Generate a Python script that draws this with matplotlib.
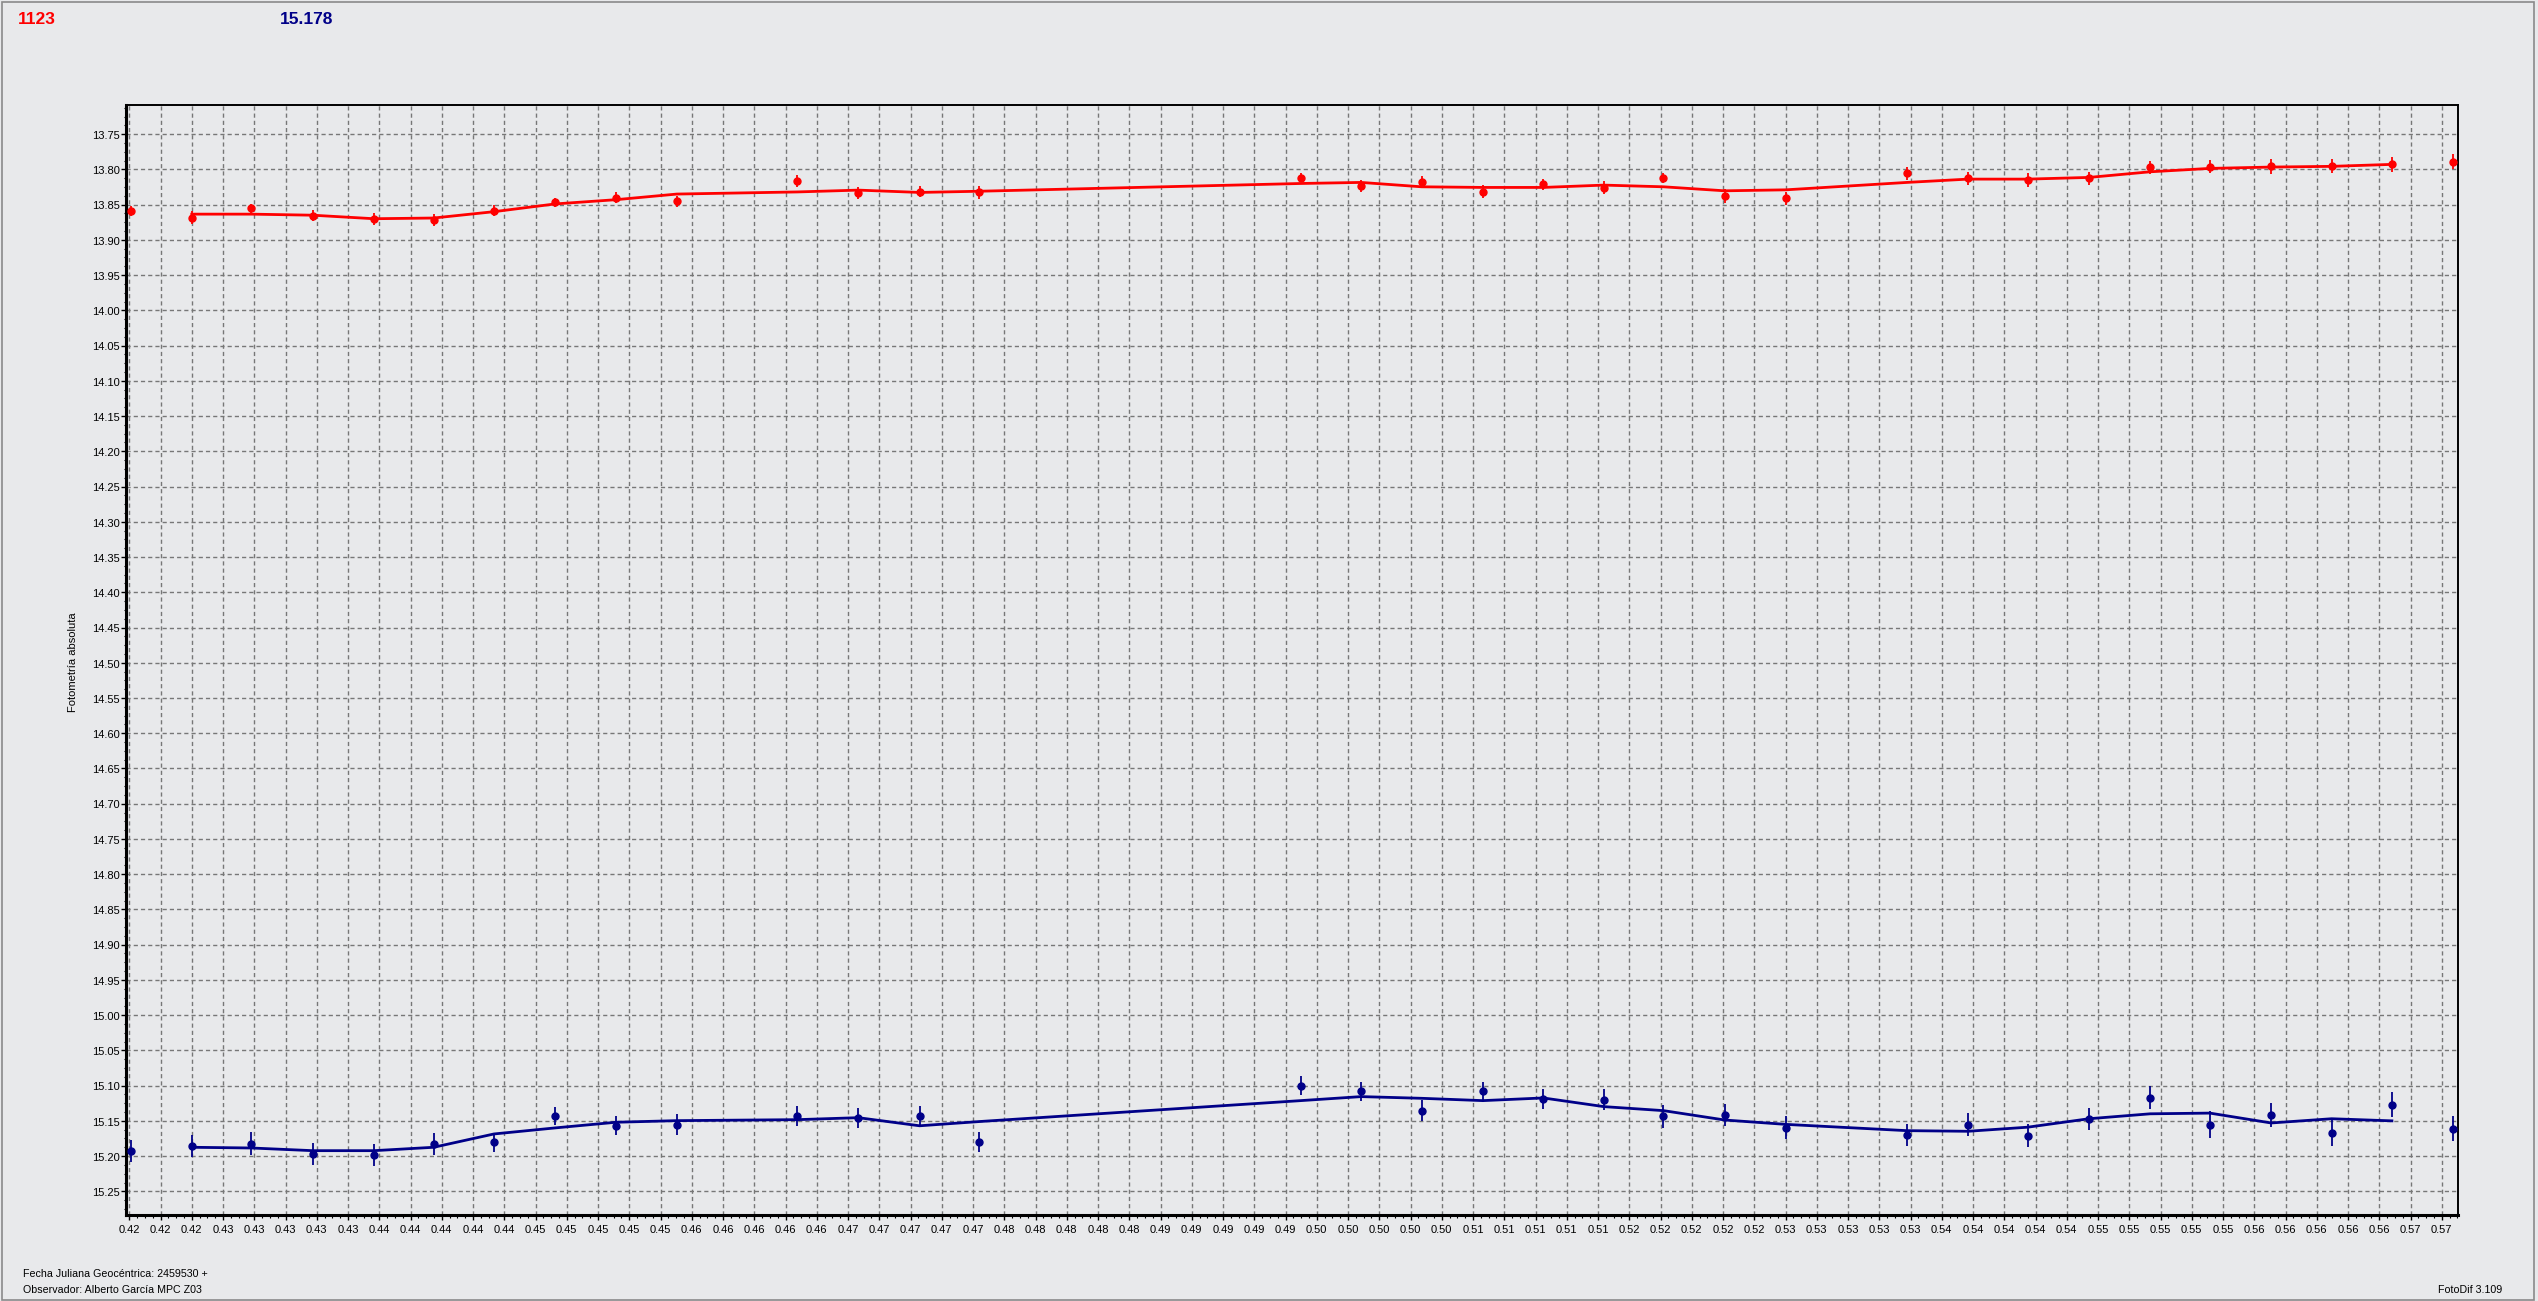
import numpy as np
import matplotlib
matplotlib.use("Agg")
import matplotlib.pyplot as plt
from matplotlib.ticker import MultipleLocator, AutoMinorLocator, FormatStrFormatter, FixedLocator
from matplotlib.patches import Rectangle

plt.rcParams['font.family'] = ['Liberation Sans', 'DejaVu Sans']

# ---------------- data ----------------
jd = [0.42008, 0.42400, 0.42782, 0.43174, 0.43566, 0.43948, 0.44334, 0.44726, 0.45114,
      0.45505, 0.46275, 0.46666, 0.47058, 0.47440, 0.49497, 0.49884, 0.50271, 0.50663,
      0.51050, 0.51437, 0.51819, 0.52211, 0.52602, 0.53376, 0.53768, 0.54150, 0.54542,
      0.54934, 0.55316, 0.55708, 0.56095, 0.56481, 0.56874]

red_mag = [13.8588, 13.8687, 13.8554, 13.8660, 13.8706, 13.8720, 13.8588, 13.8469, 13.8403,
           13.8450, 13.8162, 13.8337, 13.8318, 13.8327, 13.8118, 13.8233, 13.8185, 13.8318,
           13.8213, 13.8261, 13.8118, 13.8375, 13.8412, 13.8057, 13.8128, 13.8148, 13.8128,
           13.7972, 13.7963, 13.7957, 13.7949, 13.7929, 13.7892]
red_err = [0.0070, 0.0090, 0.0064, 0.0078, 0.0083, 0.0080, 0.0078, 0.0064, 0.0076,
           0.0078, 0.0085, 0.0083, 0.0080, 0.0092, 0.0066, 0.0088, 0.0085, 0.0090,
           0.0083, 0.0092, 0.0073, 0.0102, 0.0095, 0.0090, 0.0095, 0.0095, 0.0095,
           0.0090, 0.0090, 0.0102, 0.0102, 0.0104, 0.0107]
red_fit = [13.8635, 13.8635, 13.8650, 13.8700, 13.8690, 13.8600, 13.8490, 13.8430, 13.8350,
           13.8320, 13.8294, 13.8327, 13.8310, 13.8200, 13.8185, 13.8247, 13.8256, 13.8256,
           13.8223, 13.8247, 13.8304, 13.8290, 13.8185, 13.8138, 13.8138, 13.8114, 13.8034,
           13.7986, 13.7967, 13.7957, 13.7929]

blue_mag = [15.1923, 15.1852, 15.1824, 15.1970, 15.1984, 15.1828, 15.1804, 15.1435, 15.1568,
            15.1554, 15.1426, 15.1463, 15.1435, 15.1804, 15.1000, 15.1080, 15.1355, 15.1080,
            15.1189, 15.1199, 15.1435, 15.1416, 15.1597, 15.1700, 15.1554, 15.1710, 15.1473,
            15.1170, 15.1554, 15.1416, 15.1672, 15.1270, 15.1610]
blue_err = [0.0156, 0.0158, 0.0160, 0.0150, 0.0155, 0.0154, 0.0135, 0.0130, 0.0137,
            0.0150, 0.0140, 0.0140, 0.0140, 0.0140, 0.0137, 0.0137, 0.0150, 0.0130,
            0.0147, 0.0150, 0.0166, 0.0159, 0.0160, 0.0160, 0.0166, 0.0166, 0.0159,
            0.0166, 0.0187, 0.0173, 0.0178, 0.0182, 0.0182]
blue_fit = [15.1875, 15.1885, 15.1923, 15.1923, 15.1875, 15.1686, 15.1600, 15.1520, 15.1497,
            15.1483, 15.1455, 15.1570, 15.1510, 15.1213, 15.1156, 15.1180, 15.1213, 15.1175,
            15.1298, 15.1355, 15.1488, 15.1550, 15.1639, 15.1648, 15.1590, 15.1470, 15.1400,
            15.1390, 15.1530, 15.1470, 15.1500]

x_tick_start, x_tick_step, x_tick_count = 0.420, 0.002, 75
x_limits = (0.41979, 0.56904)
y_limits = (15.2836, 13.7089)
y_tick_step = 0.05

label_red = "1123"
label_blue = "15.178"
y_title = "Fotometría absoluta"
footer_1 = "Fecha Juliana Geocéntrica: 2459530 +"
footer_2 = "Observador: Alberto García MPC Z03"
footer_3 = "FotoDif 3.109"

# ---------------- figure ----------------
W, H = 2538, 1302
bg = '#e8e9eb'
fig = plt.figure(figsize=(W / 100, H / 100 - 0.002), dpi=100, facecolor=bg)
ax = fig.add_axes([126 / W, 1 - 1216 / H, (2458 - 126) / W, (1216 - 106) / H])
ax.set_facecolor(bg)

red = '#ff0000'
navy = '#000088'

x = np.array(jd)
ax.plot(x[1:1 + len(red_fit)], red_fit, color=red, lw=2.0, zorder=3)
ax.plot(x[1:1 + len(blue_fit)], blue_fit, color=navy, lw=2.0, zorder=3)
ax.errorbar(x, red_mag, yerr=red_err, fmt='o', ms=5, color=red, ecolor=red,
            elinewidth=1.3, capsize=0, zorder=4)
ax.errorbar(x, blue_mag, yerr=blue_err, fmt='o', ms=5, color=navy, ecolor=navy,
            elinewidth=1.3, capsize=0, zorder=4)

ax.set_xlim(*x_limits)
ax.set_ylim(*y_limits)

xt = x_tick_start + x_tick_step * np.arange(x_tick_count)
ax.xaxis.set_major_locator(FixedLocator(xt))
ax.xaxis.set_major_formatter(FormatStrFormatter('%.2f'))
ax.xaxis.set_minor_locator(AutoMinorLocator(4))
ax.yaxis.set_major_locator(MultipleLocator(y_tick_step))
ax.yaxis.set_major_formatter(FormatStrFormatter('%.2f'))
ax.yaxis.set_minor_locator(AutoMinorLocator(4))

ax.tick_params(axis='both', which='major', direction='out', length=3.5, width=1.0,
               labelsize=8, colors='black')
ax.tick_params(axis='x', which='major', pad=3)
ax.tick_params(axis='y', which='major', pad=1)
ax.tick_params(axis='both', which='minor', direction='out', length=1.8, width=0.8)

ax.grid(True, which='major', color='#777777', linestyle=(0, (3, 2.2)), linewidth=1.0, zorder=1)
ax.set_axisbelow(True)

for s in ['left', 'bottom']:
    ax.spines[s].set_linewidth(2.2)
for s in ['top', 'right']:
    ax.spines[s].set_linewidth(1.4)
for s in ax.spines.values():
    s.set_color('black')

fig.text(73 / W, 1 - 662 / H, y_title, rotation=90, fontsize=8, ha='center', va='center')

fig.text(18 / W, 1 - 19.5 / H, label_red, color=red, fontweight='bold', fontsize=12.5,
         ha='left', va='center')
fig.text(280 / W, 1 - 19.5 / H, label_blue, color=navy, fontweight='bold', fontsize=12.5,
         ha='left', va='center')

fig.text(23 / W, 1 - 1274 / H, footer_1, fontsize=7.7, ha='left', va='center')
fig.text(23 / W, 1 - 1290.5 / H, footer_2, fontsize=7.7, ha='left', va='center')
fig.text(2502 / W, 1 - 1290.5 / H, footer_3, fontsize=7.7, ha='right', va='center')

fig.add_artist(Rectangle((1.5 / W, 1.5 / H), (W - 6) / W, (H - 4) / H,
                         transform=fig.transFigure, fill=False, edgecolor='#8a8a8a',
                         linewidth=1.2))

fig.savefig('out.png', dpi=100, facecolor=bg)
